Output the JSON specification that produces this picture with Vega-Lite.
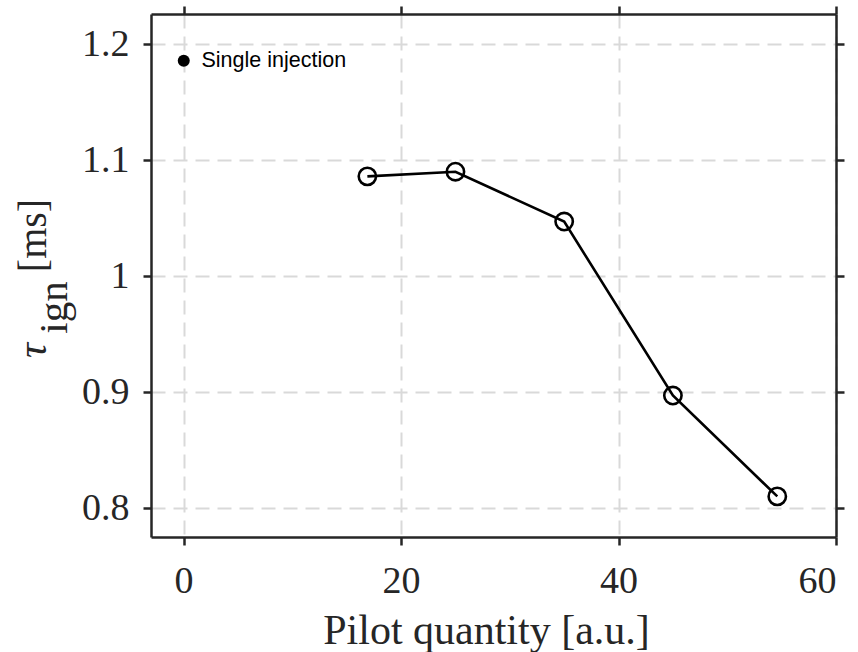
{
  "$schema": "https://vega.github.io/schema/vega-lite/v6.json",
  "width": 685,
  "height": 523,
  "autosize": "none",
  "padding": {"left": 151, "top": 14, "right": 22, "bottom": 115},
  "background": "white",
  "data": {
    "values": [
      {"pilot": 16.9, "tau": 1.086},
      {"pilot": 25.0, "tau": 1.090},
      {"pilot": 35.0, "tau": 1.047},
      {"pilot": 45.0, "tau": 0.897},
      {"pilot": 54.6, "tau": 0.810}
    ]
  },
  "config": {
    "view": {"stroke": null},
    "axis": {
      "labelFont": "Liberation Serif",
      "labelFontSize": 38,
      "labelColor": "#262626",
      "titleFont": "Liberation Serif",
      "titleFontWeight": "normal",
      "titleColor": "#262626",
      "domainColor": "#262626",
      "domainWidth": 2.5,
      "tickColor": "#262626",
      "tickWidth": 2.5,
      "tickSize": 8,
      "gridColor": "#d9d9d9",
      "gridWidth": 2,
      "gridDash": [14, 8],
      "gridOpacity": 1
    }
  },
  "resolve": {"axis": {"x": "independent", "y": "independent"}},
  "layer": [
    {
      "mark": {"type": "line", "strokeWidth": 2.6},
      "encoding": {
        "x": {
          "field": "pilot",
          "type": "quantitative",
          "scale": {"domain": [-3, 60], "nice": false, "zero": false},
          "axis": {
            "orient": "bottom",
            "values": [0, 20, 40, 60],
            "grid": true,
            "labelPadding": 17,
            "title": "Pilot quantity [a.u.]",
            "titleFontSize": 42,
            "titleX": 335,
            "titleY": 106,
            "titleAlign": "center",
            "titleBaseline": "alphabetic"
          }
        },
        "y": {
          "field": "tau",
          "type": "quantitative",
          "scale": {"domain": [0.775, 1.226], "nice": false, "zero": false},
          "axis": {
            "orient": "left",
            "values": [0.8, 0.9, 1.0, 1.1, 1.2],
            "format": "~g",
            "grid": true,
            "labelPadding": 14,
            "title": "[ms]",
            "titleFontSize": 40,
            "titleAngle": 270,
            "titleX": -106,
            "titleY": 221,
            "titleAlign": "center",
            "titleBaseline": "alphabetic"
          }
        },
        "color": {
          "datum": "Single injection",
          "type": "nominal",
          "scale": {"range": ["black"]},
          "legend": {
            "title": null,
            "orient": "none",
            "legendX": 22,
            "legendY": 36,
            "padding": 0,
            "symbolType": "circle",
            "symbolSize": 144,
            "symbolFillColor": "black",
            "symbolStrokeColor": "black",
            "symbolStrokeWidth": 0,
            "labelFont": "Liberation Sans",
            "labelFontSize": 21.5,
            "labelColor": "black",
            "labelOffset": 7,
            "encode": {"symbols": {"update": {"fill": {"value": "black"}, "strokeWidth": {"value": 0}}}}
          }
        }
      }
    },
    {
      "mark": {"type": "point", "shape": "circle", "filled": false, "size": 300, "strokeWidth": 2.6, "color": "black", "opacity": 1},
      "encoding": {
        "x": {
          "field": "pilot",
          "type": "quantitative",
          "axis": {"orient": "top", "values": [0, 20, 40, 60], "labels": false, "grid": false, "title": null}
        },
        "y": {
          "field": "tau",
          "type": "quantitative",
          "axis": {"orient": "right", "values": [0.8, 0.9, 1.0, 1.1, 1.2], "labels": false, "grid": false, "title": null}
        }
      }
    },
    {
      "mark": {"type": "point", "opacity": 0},
      "encoding": {
        "x": {"field": "pilot", "type": "quantitative", "axis": null},
        "y": {
          "field": "tau",
          "type": "quantitative",
          "axis": {
            "orient": "left",
            "domain": false,
            "ticks": false,
            "labels": false,
            "grid": false,
            "title": "τ",
            "titleFont": "Liberation Serif",
            "titleFontStyle": "italic",
            "titleFontSize": 42,
            "titleAngle": 270,
            "titleX": -106,
            "titleY": 336,
            "titleAlign": "center",
            "titleBaseline": "alphabetic"
          }
        }
      }
    },
    {
      "mark": {"type": "point", "opacity": 0},
      "encoding": {
        "x": {"field": "pilot", "type": "quantitative", "axis": null},
        "y": {
          "field": "tau",
          "type": "quantitative",
          "axis": {
            "orient": "left",
            "domain": false,
            "ticks": false,
            "labels": false,
            "grid": false,
            "title": "ign",
            "titleFontSize": 41,
            "titleAngle": 270,
            "titleX": -85,
            "titleY": 293,
            "titleAlign": "center",
            "titleBaseline": "alphabetic"
          }
        }
      }
    }
  ]
}
